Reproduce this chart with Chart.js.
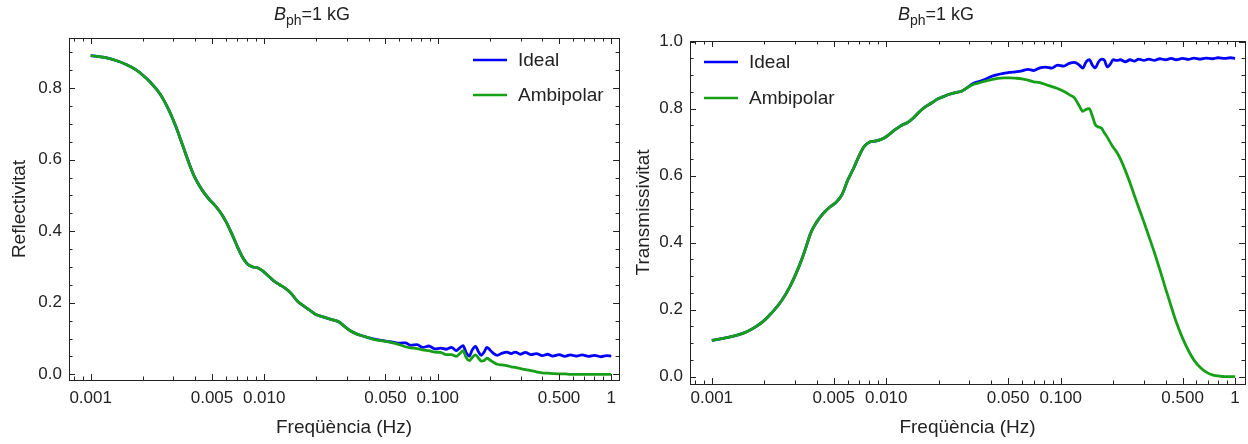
<!DOCTYPE html>
<html lang="ca">
<head>
<meta charset="UTF-8">
<title>Reflectivitat i transmissivitat</title>
<script src="https://cdn.jsdelivr.net/npm/chart.js@4.4.0/dist/chart.umd.min.js"></script>
<style>
  body { margin: 0; background: #fff; }
  #wrap { display: flex; width: 1248px; height: 444px; }
  .panel { width: 624px; height: 444px; }
</style>
</head>
<body>
<div id="wrap">
  <div class="panel"><canvas id="refl" width="624" height="444"></canvas></div>
  <div class="panel"><canvas id="trans" width="624" height="444"></canvas></div>
</div>
<script>
// frequencies (Hz), shared by all four curves
var freq = [0.001, 0.0012, 0.0014, 0.0016, 0.0018, 0.002, 0.0022, 0.0025, 0.0028, 0.0031,
  0.0034, 0.0037, 0.004, 0.0044, 0.0048, 0.0052, 0.0056, 0.006, 0.0065, 0.007,
  0.0075, 0.008, 0.0086, 0.0092, 0.0098, 0.0105, 0.0113, 0.0122, 0.0132, 0.0143,
  0.0155, 0.0168, 0.0182, 0.0197, 0.0213, 0.023, 0.0249, 0.027, 0.029, 0.0315,
  0.034, 0.037, 0.04, 0.043, 0.047, 0.051, 0.055, 0.06, 0.065, 0.07,
  0.076, 0.082, 0.089, 0.096, 0.104, 0.112, 0.12, 0.128, 0.134, 0.14,
  0.146, 0.152, 0.158, 0.165, 0.172, 0.178, 0.185, 0.192, 0.2, 0.21,
  0.22, 0.235, 0.25, 0.265, 0.28, 0.3, 0.32, 0.345, 0.37, 0.4,
  0.43, 0.46, 0.5, 0.54, 0.58, 0.63, 0.68, 0.74, 0.8, 0.87, 0.94, 1.0];

var reflIdeal = [0.891, 0.886, 0.877, 0.866, 0.853, 0.836, 0.817, 0.785, 0.742, 0.692,
  0.638, 0.588, 0.548, 0.514, 0.490, 0.472, 0.452, 0.428, 0.393, 0.357,
  0.327, 0.308, 0.300, 0.297, 0.289, 0.276, 0.262, 0.251, 0.241, 0.226,
  0.205, 0.192, 0.180, 0.168, 0.162, 0.157, 0.152, 0.146, 0.134, 0.121,
  0.113, 0.107, 0.102, 0.098, 0.095, 0.092, 0.090, 0.087, 0.088, 0.081,
  0.083, 0.075, 0.079, 0.071, 0.073, 0.070, 0.075, 0.066, 0.074, 0.080,
  0.060, 0.051, 0.068, 0.078, 0.062, 0.053, 0.062, 0.075, 0.068, 0.058,
  0.053, 0.059, 0.062, 0.058, 0.062, 0.056, 0.061, 0.055, 0.058, 0.052,
  0.056, 0.051, 0.055, 0.050, 0.054, 0.051, 0.054, 0.050, 0.053, 0.049, 0.052, 0.051];

var reflAmbi = [0.891, 0.886, 0.877, 0.866, 0.853, 0.836, 0.817, 0.785, 0.742, 0.692,
  0.638, 0.588, 0.548, 0.514, 0.490, 0.472, 0.452, 0.428, 0.393, 0.357,
  0.327, 0.308, 0.300, 0.297, 0.289, 0.276, 0.262, 0.251, 0.241, 0.226,
  0.205, 0.192, 0.180, 0.168, 0.162, 0.157, 0.152, 0.146, 0.134, 0.121,
  0.113, 0.107, 0.102, 0.097, 0.094, 0.091, 0.088, 0.083, 0.077, 0.074,
  0.072, 0.068, 0.066, 0.062, 0.061, 0.055, 0.055, 0.050, 0.058, 0.066,
  0.046, 0.038, 0.047, 0.054, 0.045, 0.037, 0.038, 0.045, 0.040, 0.033,
  0.028, 0.026, 0.024, 0.021, 0.019, 0.016, 0.013, 0.010, 0.007, 0.004,
  0.003, 0.002, 0.001, 0.001, 0.000, 0.000, 0.000, 0.000, 0.000, 0.000, 0.000, 0.000];

var transIdeal = [0.108, 0.116, 0.124, 0.135, 0.150, 0.168, 0.190, 0.225, 0.268, 0.318,
  0.373, 0.430, 0.462, 0.490, 0.508, 0.522, 0.545, 0.585, 0.622, 0.660,
  0.688, 0.700, 0.703, 0.707, 0.713, 0.725, 0.738, 0.750, 0.758, 0.772,
  0.791, 0.806, 0.817, 0.829, 0.836, 0.843, 0.848, 0.852, 0.862, 0.875,
  0.881, 0.888, 0.896, 0.901, 0.905, 0.908, 0.910, 0.913, 0.917, 0.914,
  0.922, 0.924, 0.921, 0.930, 0.927, 0.935, 0.938, 0.930, 0.921, 0.940,
  0.946, 0.930, 0.922, 0.940, 0.948, 0.945, 0.925, 0.932, 0.946, 0.944,
  0.946, 0.940, 0.946, 0.942, 0.948, 0.944, 0.948, 0.944, 0.949, 0.946,
  0.950, 0.946, 0.950, 0.947, 0.951, 0.948, 0.951, 0.949, 0.952, 0.950, 0.952, 0.950];

var transAmbi = [0.108, 0.116, 0.124, 0.135, 0.150, 0.168, 0.190, 0.225, 0.268, 0.318,
  0.373, 0.430, 0.462, 0.490, 0.508, 0.522, 0.545, 0.585, 0.622, 0.660,
  0.688, 0.700, 0.703, 0.707, 0.713, 0.725, 0.738, 0.750, 0.758, 0.772,
  0.791, 0.806, 0.817, 0.829, 0.836, 0.843, 0.848, 0.852, 0.862, 0.872,
  0.877, 0.882, 0.887, 0.890, 0.892, 0.892, 0.891, 0.889, 0.885, 0.880,
  0.878, 0.872, 0.866, 0.860, 0.852, 0.842, 0.832, 0.808, 0.792, 0.798,
  0.800, 0.778, 0.752, 0.745, 0.741, 0.728, 0.715, 0.700, 0.685, 0.670,
  0.650, 0.615, 0.578, 0.540, 0.505, 0.462, 0.420, 0.370, 0.320, 0.262,
  0.210, 0.163, 0.115, 0.078, 0.050, 0.028, 0.014, 0.005, 0.002, 0.000, 0.000, 0.000];

var xTicks = [0.001, 0.005, 0.01, 0.05, 0.1, 0.5, 1];
var xTickLabels = ["0.001", "0.005", "0.010", "0.050", "0.100", "0.500", "1"];
var reflTicks = [0, 0.2, 0.4, 0.6, 0.8];
var transTicks = [0, 0.2, 0.4, 0.6, 0.8, 1.0];
var seriesNames = ["Ideal", "Ambipolar"];

var FONT = "'Liberation Sans', Arial, sans-serif";
var BLUE = "#0000ff";
var GREEN = "#17a017";
var INK = "#222";

function pts(ys) {
  return freq.map(function (f, i) { return { x: f, y: ys[i] }; });
}

// Mathematica-like frame: box with inward ticks on all four sides
var framePlugin = {
  id: "frame",
  afterDatasetsDraw: function (chart) {
    var ctx = chart.ctx, a = chart.chartArea;
    var xs = chart.scales.x, ys = chart.scales.y;
    ctx.save();
    ctx.strokeStyle = INK;
    ctx.lineWidth = 1;
    ctx.strokeRect(Math.round(a.left) + 0.5, Math.round(a.top) + 0.5,
      Math.round(a.right - a.left), Math.round(a.bottom - a.top));
    ctx.beginPath();
    for (var k = -4; k <= 0; k++) {
      for (var m = 1; m <= 9; m++) {
        var v = m * Math.pow(10, k);
        if (v < xs.min || v > xs.max) continue;
        var major = xTicks.some(function (t) { return Math.abs(t - v) < 1e-9; });
        var len = major ? 6 : 3.5;
        var px = Math.round(xs.getPixelForValue(v)) + 0.5;
        ctx.moveTo(px, a.bottom); ctx.lineTo(px, a.bottom - len);
        ctx.moveTo(px, a.top); ctx.lineTo(px, a.top + len);
      }
    }
    for (var j = 0; j <= 20; j++) {
      var yv = j * 0.05;
      if (yv < ys.min || yv > ys.max + 1e-9) continue;
      var ymaj = (j % 4 === 0);
      var ylen = ymaj ? 6 : 3.5;
      var py = Math.round(ys.getPixelForValue(yv)) + 0.5;
      ctx.moveTo(a.left, py); ctx.lineTo(a.left + ylen, py);
      ctx.moveTo(a.right, py); ctx.lineTo(a.right - ylen, py);
    }
    ctx.stroke();
    ctx.restore();
  }
};

// legend drawn inside the plot box, plus the B_ph title
var legendPlugin = {
  id: "inlegend",
  afterDraw: function (chart, args, opts) {
    var ctx = chart.ctx;
    ctx.save();
    var colors = [BLUE, GREEN];
    ctx.font = "19px " + FONT;
    ctx.textBaseline = "middle";
    ctx.textAlign = "left";
    for (var i = 0; i < seriesNames.length; i++) {
      var y = opts.top + i * opts.gap;
      ctx.strokeStyle = colors[i];
      ctx.lineWidth = 2.6;
      ctx.beginPath();
      ctx.moveTo(opts.left, y);
      ctx.lineTo(opts.left + 34, y);
      ctx.stroke();
      ctx.fillStyle = INK;
      ctx.fillText(seriesNames[i], opts.left + 45, y + 1);
    }
    // title: B_ph=1 kG
    var parts = [
      { t: "B", f: "italic 18px " + FONT, dy: 0 },
      { t: "ph", f: "14px " + FONT, dy: 5 },
      { t: "=1 kG", f: "18px " + FONT, dy: 0 }
    ];
    var w = 0;
    parts.forEach(function (p) { ctx.font = p.f; p.w = ctx.measureText(p.t).width; w += p.w; });
    var x = 312 - w / 2;
    ctx.textBaseline = "alphabetic";
    parts.forEach(function (p) {
      ctx.font = p.f;
      ctx.fillText(p.t, x, 20 + p.dy);
      x += p.w;
    });
    ctx.restore();
  }
};

function makeChart(id, cfg) {
  return new Chart(document.getElementById(id), {
    type: "line",
    data: {
      datasets: [
        { label: seriesNames[0], data: pts(cfg.ideal), borderColor: BLUE, order: 1 },
        { label: seriesNames[1], data: pts(cfg.ambi), borderColor: GREEN, order: 0 }
      ]
    },
    options: {
      responsive: false,
      animation: false,
      devicePixelRatio: 1,
      layout: { padding: { top: cfg.padTop, right: cfg.padRight, left: 0, bottom: 0 } },
      elements: {
        point: { radius: 0 },
        line: { borderWidth: 2.8, cubicInterpolationMode: "monotone", fill: false }
      },
      plugins: {
        legend: { display: false },
        tooltip: { enabled: false },
        inlegend: { left: cfg.legLeft, top: cfg.legTop, gap: cfg.legGap }
      },
      scales: {
        x: {
          type: "logarithmic",
          min: 0.00075,
          max: cfg.xMax,
          grid: { display: false, drawTicks: false },
          border: { display: false },
          afterBuildTicks: function (s) { s.ticks = xTicks.map(function (v) { return { value: v }; }); },
          afterFit: function (s) { s.height = cfg.xHeight; },
          ticks: {
            autoSkip: false, maxRotation: 0, padding: cfg.xPad, color: INK,
            font: { family: FONT, size: 17 },
            callback: function (v, i) { return xTickLabels[i]; }
          },
          title: {
            display: true, text: "Freqüència (Hz)", color: INK,
            font: { family: FONT, size: 19 }, padding: { top: 0, bottom: 5 }
          }
        },
        y: {
          min: cfg.yMin,
          max: cfg.yMax,
          grid: { display: false, drawTicks: false },
          border: { display: false },
          afterBuildTicks: function (s) { s.ticks = cfg.yTicks.map(function (v) { return { value: v }; }); },
          afterFit: function (s) { s.width = cfg.yWidth; },
          ticks: {
            padding: 7, color: INK,
            font: { family: FONT, size: 17 },
            callback: function (v) { return v.toFixed(1); }
          },
          title: {
            display: true, text: cfg.yName, color: INK,
            font: { family: FONT, size: 19 }, padding: { top: 8, bottom: 0 }
          }
        }
      }
    },
    plugins: [framePlugin, legendPlugin]
  });
}

makeChart("refl", {
  ideal: reflIdeal, ambi: reflAmbi, yName: "Reflectivitat", yTicks: reflTicks,
  yMin: -0.016, yMax: 0.94, xMax: 1.11,
  padTop: 38, padRight: 1, yWidth: 69, xHeight: 64, xPad: 8,
  legLeft: 473, legTop: 60, legGap: 35
});

makeChart("trans", {
  ideal: transIdeal, ambi: transAmbi, yName: "Transmissivitat", yTicks: transTicks,
  yMin: -0.022, yMax: 1.002, xMax: 1.14,
  padTop: 41, padRight: 3, yWidth: 66, xHeight: 60, xPad: 4,
  legLeft: 80, legTop: 62, legGap: 36
});
</script>
</body>
</html>
